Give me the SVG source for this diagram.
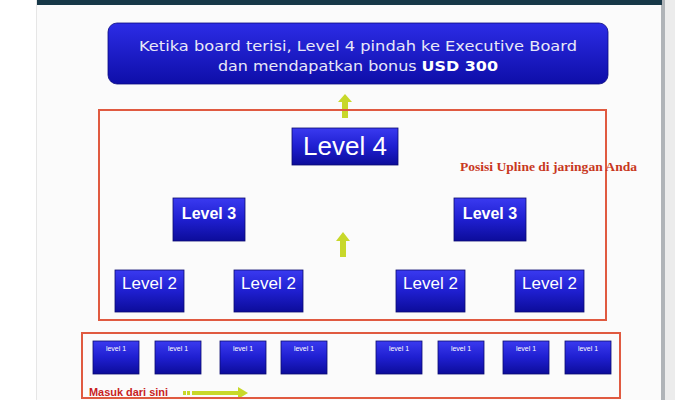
<svg xmlns="http://www.w3.org/2000/svg" width="700" height="400" viewBox="0 0 700 400">
<defs>
<linearGradient id="bg" x1="0" y1="0" x2="0" y2="1">
<stop offset="0" stop-color="#3a3af0"/>
<stop offset="0.5" stop-color="#1f1fd0"/>
<stop offset="1" stop-color="#0c0c9a"/>
</linearGradient>
<linearGradient id="tg" x1="0" y1="0" x2="0" y2="1">
<stop offset="0" stop-color="#2c2ce6"/>
<stop offset="1" stop-color="#0e0ea8"/>
</linearGradient>
<style>
.box{fill:url(#bg);stroke:#0a0a70;stroke-width:0.8}
.lbl{font-family:"Liberation Sans",Arial,sans-serif;fill:#fff;text-anchor:middle}
.hd{font-family:"DejaVu Sans",Verdana,sans-serif;fill:#e8e8f8;text-anchor:middle;font-size:14px}
.l2{font-size:17px}
.l3{font-size:16px;font-weight:bold}
.l1{font-size:7px}
.frame{fill:none;stroke:#e05a40;stroke-width:2}
.arr{fill:#c8d82a}
</style>
</defs>
<rect width="700" height="400" fill="#ffffff"/>
<rect x="37" y="0" width="626" height="400" fill="#fbfbfb"/>
<rect x="661" y="0" width="4" height="400" fill="#b0b4b8"/>
<rect x="665" y="0" width="10" height="400" fill="#ececec"/>
<rect x="36" y="0" width="1" height="400" fill="#e6e6e6"/>
<rect x="37" y="0" width="625" height="5" fill="#173848"/>

<g id="top-box">
<rect x="108" y="23" width="500" height="61" rx="9" fill="url(#tg)" stroke="#0a0a80" stroke-width="0.8"/>
<text x="358" y="51" class="hd" textLength="438" lengthAdjust="spacingAndGlyphs">Ketika board terisi, Level 4  pindah ke  Executive Board</text>
<text x="358" y="71" class="hd" textLength="280" lengthAdjust="spacingAndGlyphs">dan mendapatkan bonus  <tspan font-weight="bold" fill="#ffffff">USD 300</tspan></text>
</g>

<g id="connectors">
<polygon class="arr" points="345,94 352,102 348,102 348,118 342,118 342,102 338,102"/>
<polygon class="arr" points="343,232 350,241 346,241 346,257 340,257 340,241 336,241"/>
<polygon class="arr" points="248,393 238,387 238,391 192,391 192,395 238,395 238,399"/>
<rect class="arr" x="183" y="391" width="3" height="4"/>
<rect class="arr" x="187" y="391" width="3" height="4"/>
</g>

<g id="upper-frame"><rect class="frame" x="99" y="110" width="507" height="210"/></g>
<g id="lower-frame"><rect class="frame" x="82" y="333" width="538" height="65"/></g>

<g id="level4"><rect class="box" x="292" y="128" width="106" height="37"/><text x="345" y="155" class="lbl" font-size="26">Level 4</text></g>

<g id="level3-a"><rect class="box" x="173" y="198" width="72" height="43"/><text x="209" y="219" class="lbl l3">Level 3</text></g>
<g id="level3-b"><rect class="box" x="454" y="198" width="72" height="43"/><text x="490" y="219" class="lbl l3">Level 3</text></g>

<g id="level2-a"><rect class="box" x="115" y="270" width="69" height="42"/><text x="149.5" y="289" class="lbl l2">Level 2</text></g>
<g id="level2-b"><rect class="box" x="234" y="270" width="69" height="42"/><text x="268.5" y="289" class="lbl l2">Level 2</text></g>
<g id="level2-c"><rect class="box" x="396" y="270" width="69" height="42"/><text x="430.5" y="289" class="lbl l2">Level 2</text></g>
<g id="level2-d"><rect class="box" x="515" y="270" width="69" height="42"/><text x="549.5" y="289" class="lbl l2">Level 2</text></g>

<g id="level1-a"><rect class="box" x="93" y="341" width="46" height="33"/><text x="116" y="351" class="lbl l1">level 1</text></g>
<g id="level1-b"><rect class="box" x="155" y="341" width="46" height="33"/><text x="178" y="351" class="lbl l1">level 1</text></g>
<g id="level1-c"><rect class="box" x="220" y="341" width="46" height="33"/><text x="243" y="351" class="lbl l1">level 1</text></g>
<g id="level1-d"><rect class="box" x="281" y="341" width="46" height="33"/><text x="304" y="351" class="lbl l1">level 1</text></g>
<g id="level1-e"><rect class="box" x="376" y="341" width="46" height="33"/><text x="399" y="351" class="lbl l1">level 1</text></g>
<g id="level1-f"><rect class="box" x="438" y="341" width="46" height="33"/><text x="461" y="351" class="lbl l1">level 1</text></g>
<g id="level1-g"><rect class="box" x="503" y="341" width="46" height="33"/><text x="526" y="351" class="lbl l1">level 1</text></g>
<g id="level1-h"><rect class="box" x="565" y="341" width="46" height="33"/><text x="588" y="351" class="lbl l1">level 1</text></g>

<text x="460" y="171" font-family="'Liberation Serif','Times New Roman',serif" font-weight="bold" font-size="12" textLength="177" lengthAdjust="spacingAndGlyphs" fill="#c8381e">Posisi Upline di jaringan Anda</text>
<text x="89" y="396" font-family="'Liberation Sans',Arial,sans-serif" font-weight="bold" font-size="11" textLength="79" lengthAdjust="spacingAndGlyphs" fill="#c81e1e">Masuk dari sini</text>
</svg>
